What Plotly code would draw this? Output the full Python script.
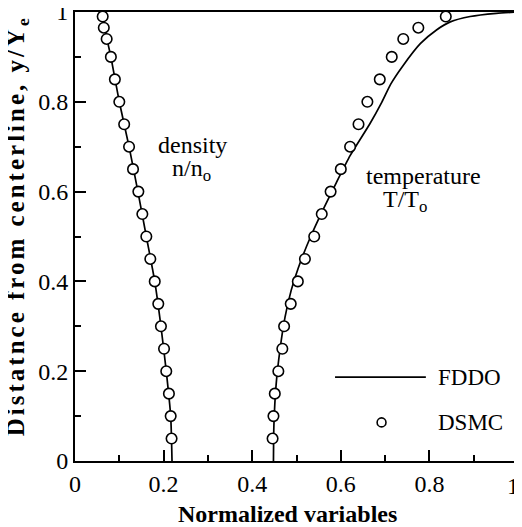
import plotly.graph_objects as go

# DSMC sample heights (y/Ye)
dsmc_y = [0.05, 0.10, 0.15, 0.20, 0.25, 0.30, 0.35, 0.40, 0.45, 0.50, 0.55,
          0.60, 0.65, 0.70, 0.75, 0.80, 0.85, 0.90, 0.94, 0.965, 0.99]
dsmc_density = [0.218, 0.216, 0.212, 0.206, 0.201, 0.194, 0.188, 0.180, 0.170,
                0.161, 0.152, 0.143, 0.131, 0.122, 0.111, 0.100, 0.090, 0.081,
                0.0715, 0.065, 0.0625]
dsmc_temp = [0.446, 0.448, 0.451, 0.459, 0.468, 0.472, 0.487, 0.503, 0.519,
             0.540, 0.557, 0.577, 0.600, 0.621, 0.640, 0.660, 0.688, 0.715,
             0.741, 0.775, 0.837]

# FDDO curves
fddo_den_y = [0.0, 0.1, 0.2, 0.3, 0.4, 0.5, 0.6, 0.7, 0.8, 0.9, 0.95, 1.0]
fddo_den_x = [0.219, 0.216, 0.206, 0.194, 0.180, 0.161, 0.142, 0.122, 0.100,
              0.081, 0.070, 0.062]
fddo_tmp_y = [0.0, 0.08, 0.17, 0.25, 0.32, 0.38, 0.43, 0.50, 0.56, 0.62, 0.68,
              0.75, 0.80, 0.84, 0.88, 0.93, 0.96, 0.978, 0.99, 0.997, 1.0]
fddo_tmp_x = [0.448, 0.449, 0.454, 0.463, 0.474, 0.488, 0.504, 0.532, 0.560,
              0.590, 0.621, 0.665, 0.693, 0.713, 0.740, 0.780, 0.816, 0.847,
              0.892, 0.951, 1.0]

tick_vals = [0, 0.2, 0.4, 0.6, 0.8, 1]
y_tick_text = ["0", "0.2", "0.4", "0.6", "0.8", "1"]
x_tick_text = ["0", "0.2", "0.4", "0.6", "0.8", ""]   # last label "1" drawn as annotation (edge)

FONT = "Liberation Serif"

fig = go.Figure()
for xs, ys in [(fddo_den_x, fddo_den_y), (fddo_tmp_x, fddo_tmp_y)]:
    fig.add_trace(go.Scatter(x=xs, y=ys, mode="lines",
                             line=dict(color="black", width=1.7, shape="spline", smoothing=0.6),
                             showlegend=False, hoverinfo="skip"))
for xs in [dsmc_density, dsmc_temp]:
    fig.add_trace(go.Scatter(x=xs, y=dsmc_y, mode="markers",
                             marker=dict(symbol="circle", size=10.5, color="white",
                                         line=dict(color="black", width=1.6)),
                             showlegend=False, hoverinfo="skip"))

axis_common = dict(range=[0, 1], showgrid=False, zeroline=False,
                   showline=True, linecolor="black", linewidth=2, mirror=True,
                   ticks="inside", ticklen=11, tickwidth=1.5, tickcolor="black",
                   tickvals=tick_vals, automargin=False,
                   ticklabeloverflow="allow",
                   tickfont=dict(family=FONT, size=24, color="black"),
                   minor=dict(ticks="inside", ticklen=6, tickwidth=1.5,
                              tickcolor="black", dtick=0.1))

fig.update_xaxes(**axis_common, ticktext=x_tick_text)
fig.update_yaxes(**axis_common, ticktext=y_tick_text)

ann_font = dict(family=FONT, size=24, color="black")
annotations = [
    dict(x=1, y=0, text="1", xshift=-5, yanchor="top", yshift=-10, font=ann_font),
    dict(x=0.479, y=-0.118, text="<b>Normalized variables</b>", font=ann_font),
    dict(x=-0.131, y=0.525,
         text='<span style="letter-spacing:3px"><b>Distatnce from centerline, y/Y<sub>e</sub></b></span>',
         textangle=-90, font=dict(family=FONT, size=25, color="black")),
    dict(x=0.266, y=0.704, text="density", font=ann_font),
    dict(x=0.262, y=0.648, text="n/n<sub>o</sub>", font=ann_font),
    dict(x=0.786, y=0.635, text="temperature", font=ann_font),
    dict(x=0.745, y=0.578, text="T/T<sub>o</sub>", font=ann_font),
    dict(x=0.816, y=0.187, text="FDDO", xanchor="left", font=dict(family=FONT, size=23, color="black")),
    dict(x=0.816, y=0.086, text="DSMC", xanchor="left", font=dict(family=FONT, size=23, color="black")),
]
for a in annotations:
    a["xref"] = "paper"
    a["yref"] = "paper"
    a["showarrow"] = False
    a.setdefault("xanchor", "center")
    a.setdefault("yanchor", "middle")

shapes = [
    dict(type="line", xref="paper", yref="paper", x0=0.587, x1=0.792, y0=0.187, y1=0.187,
         line=dict(color="black", width=1.7)),
    dict(type="circle", xref="paper", yref="paper", x0=0.682, x1=0.702, y0=0.076, y1=0.096,
         line=dict(color="black", width=1.6), fillcolor="white"),
]

# the page body has an 8px margin, so the figure is offset by 8px
fig.update_layout(width=514, height=519, margin=dict(l=67, r=4, t=4, b=66),
                  plot_bgcolor="white", paper_bgcolor="white",
                  annotations=annotations, shapes=shapes, showlegend=False)

fig.write_html("out.html")
